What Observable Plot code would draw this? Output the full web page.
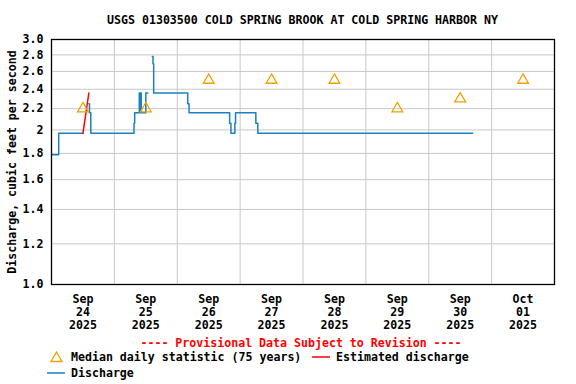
<!DOCTYPE html>
<html><head><meta charset="utf-8">
<script src="https://cdn.jsdelivr.net/npm/d3@7"></script>
<script src="https://cdn.jsdelivr.net/npm/@observablehq/plot@0.6"></script>
<style>
body{margin:0;background:#fff;}
#wrap{position:relative;width:576px;height:384px;font-family:"DejaVu Sans Mono",monospace;font-weight:bold;font-size:11.6px;color:#000;overflow:hidden;}
.t{position:absolute;white-space:pre;line-height:14px;}
#title{left:0;top:13px;width:576px;padding-left:29px;box-sizing:border-box;text-align:center;}
#prov{left:0;top:336px;width:576px;padding-left:26px;box-sizing:border-box;text-align:center;color:#ff0000;}
#chart{position:absolute;left:0;top:30px;}
svg.sw{position:absolute;overflow:visible;}
</style>
</head><body>
<div id="wrap">
  <div id="title" class="t"></div>
  <div id="chart"></div>
  <div id="prov" class="t"></div>
  <svg class="sw" style="left:50px;top:350px" width="14" height="14"><path d="M1,11.5 L6.5,2 L12,11.5 Z" fill="none" stroke="#f0a000" stroke-width="1.3"/></svg>
  <div class="t" id="lg1" style="left:71px;top:350px"></div>
  <svg class="sw" style="left:312px;top:350px" width="18" height="14"><line x1="0" x2="18" y1="7" y2="7" stroke="#ff0000" stroke-width="1.5"/></svg>
  <div class="t" id="lg2" style="left:336px;top:350px"></div>
  <svg class="sw" style="left:47px;top:366px" width="18" height="14"><line x1="0" x2="18" y1="7" y2="7" stroke="#1a80c4" stroke-width="1.5"/></svg>
  <div class="t" id="lg3" style="left:71px;top:366px"></div>
</div>
<script>
// ---- data ----
const titleText = "USGS 01303500 COLD SPRING BROOK AT COLD SPRING HARBOR NY";
const yLabel = "Discharge, cubic feet per second";
const provisionalText = "---- Provisional Data Subject to Revision ----";
const legendMedian = "Median daily statistic (75 years)";
const legendEstimated = "Estimated discharge";
const legendDischarge = "Discharge";

const domainStart = "2025-09-24T00:00Z";
const domainEnd = "2025-10-02T00:00Z";
const dayLines = ["2025-09-25T00:00Z","2025-09-26T00:00Z","2025-09-27T00:00Z","2025-09-28T00:00Z","2025-09-29T00:00Z","2025-09-30T00:00Z","2025-10-01T00:00Z"];

const xTickTimes = ["2025-09-24T12:00Z","2025-09-25T12:00Z","2025-09-26T12:00Z","2025-09-27T12:00Z","2025-09-28T12:00Z","2025-09-29T12:00Z","2025-09-30T12:00Z","2025-10-01T12:00Z"];
const xTickMonth = ["Sep","Sep","Sep","Sep","Sep","Sep","Sep","Oct"];
const xTickDay = ["24","25","26","27","28","29","30","01"];
const xTickYear = ["2025","2025","2025","2025","2025","2025","2025","2025"];

const yTicks = [1.0, 1.2, 1.4, 1.6, 1.8, 2.0, 2.2, 2.4, 2.6, 2.8, 3.0];
const yTickLabels = ["1.0","1.2","1.4","1.6","1.8","2","2.2","2.4","2.6","2.8","3.0"];

// Discharge (blue), null = gap
const dischargeTimes = [
  "2025-09-24T00:00Z","2025-09-24T02:45Z","2025-09-24T12:00Z","2025-09-24T13:00Z",
  "2025-09-24T14:15Z","2025-09-24T14:30Z","2025-09-24T15:00Z",
  "2025-09-25T07:30Z","2025-09-25T07:45Z","2025-09-25T09:30Z","2025-09-25T09:45Z",
  "2025-09-25T10:00Z","2025-09-25T10:15Z","2025-09-25T12:00Z","2025-09-25T12:45Z",
  "2025-09-25T13:30Z","2025-09-25T14:30Z","2025-09-25T14:45Z","2025-09-25T15:00Z",
  "2025-09-26T04:00Z","2025-09-26T04:30Z","2025-09-26T20:00Z","2025-09-26T20:30Z",
  "2025-09-26T22:00Z","2025-09-26T22:15Z","2025-09-27T06:00Z","2025-09-27T06:45Z",
  "2025-09-30T16:45Z"
];
const dischargeValues = [
  1.79, 1.97, 1.97, null,
  2.25, 2.16, 1.97,
  2.06, 2.16, 2.36, 2.16,
  2.36, 2.16, 2.36, 2.36,
  null, 2.78, 2.69, 2.36,
  2.25, 2.16, 2.06, 1.97,
  2.06, 2.16, 2.06, 1.97,
  1.97
];

// Estimated discharge (red)
const estimatedTimes = ["2025-09-24T12:00Z","2025-09-24T14:15Z"];
const estimatedValues = [1.97, 2.36];

// Median daily statistic (75 years)
const medianTimes = xTickTimes;
const medianValues = [2.2, 2.2, 2.5, 2.5, 2.5, 2.2, 2.3, 2.5];

// ---- build ----
const BLUE = "#1a80c4", RED = "#ff0000", ORANGE = "#f0a000", GRID = "#c8c8c8";
const discharge = dischargeTimes.map((t, i) => ({t: new Date(t), v: dischargeValues[i]}));
const estimated = estimatedTimes.map((t, i) => ({t: new Date(t), v: estimatedValues[i]}));
const median = medianTimes.map((t, i) => ({t: new Date(t), v: medianValues[i]}));
const xTicks = xTickTimes.map(t => new Date(t));
const xLabelMap = new Map(xTicks.map((d, i) => [+d, `${xTickMonth[i]}\n${xTickDay[i]}\n${xTickYear[i]}`]));
const yLabelMap = new Map(yTicks.map((v, i) => [v, yTickLabels[i]]));

document.getElementById("title").textContent = titleText;
document.getElementById("prov").textContent = provisionalText;
document.getElementById("lg1").textContent = legendMedian;
document.getElementById("lg2").textContent = legendEstimated;
document.getElementById("lg3").textContent = legendDischarge;

const chart = Plot.plot({
  width: 576,
  height: 305,
  marginTop: 9,
  marginBottom: 51,
  marginLeft: 51,
  marginRight: 22,
  style: {fontFamily: "'DejaVu Sans Mono', monospace", fontWeight: "bold", fontSize: "11.6px", background: "white", color: "black", overflow: "visible"},
  x: {type: "utc", domain: [new Date(domainStart), new Date(domainEnd)]},
  y: {type: "log", domain: [1, 3]},
  marks: [
    Plot.gridX(dayLines.map(d => new Date(d)), {stroke: GRID, strokeOpacity: 1, strokeWidth: 1}),
    Plot.gridY(yTicks.slice(1, -1), {stroke: GRID, strokeOpacity: 1, strokeWidth: 1}),
    Plot.axisX(xTicks, {tickSize: 0, tickPadding: 9, tickFormat: d => xLabelMap.get(+d), lineHeight: 1.12, label: null, fill: "black"}),
    Plot.axisY(yTicks, {tickSize: 0, tickPadding: 8, tickFormat: d => yLabelMap.get(d), label: yLabel, labelAnchor: "center", labelArrow: "none", labelOffset: 44, fill: "black"}),
    Plot.line(discharge, {x: "t", y: "v", curve: "step-after", stroke: BLUE, strokeWidth: 1.5}),
    Plot.line(estimated, {x: "t", y: "v", stroke: RED, strokeWidth: 1.5}),
    Plot.dot(median, {x: "t", y: "v", symbol: "triangle", r: 4, stroke: ORANGE, fill: "none", strokeWidth: 1.3}),
    Plot.frame({stroke: "black", strokeWidth: 1.3})
  ]
});
document.getElementById("chart").appendChild(chart);
</script>
</body></html>
